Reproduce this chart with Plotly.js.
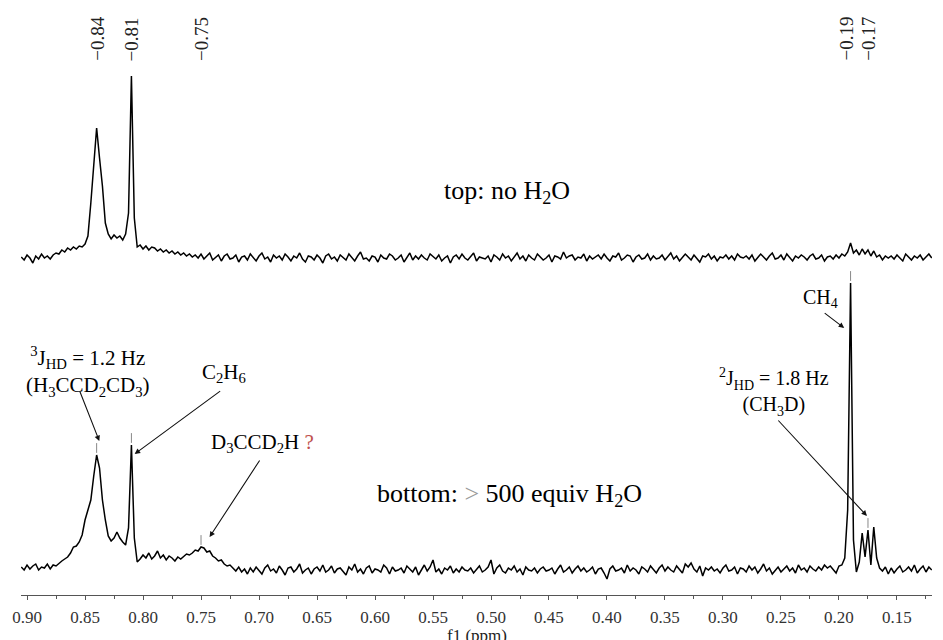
<!DOCTYPE html>
<html><head><meta charset="utf-8">
<script src="https://cdn.plot.ly/plotly-3.0.1.min.js"></script>
<style>html,body{margin:0;padding:0;background:#fff}#chart{width:943px;height:640px}</style>
</head><body><div id="chart"></div>
<script>
const ppmStart = 0.905;
const ppmStep = 0.0025;

// bottom spectrum: > 500 equiv H2O (arbitrary intensity units)
const bottomSpectrum = [
  3, 0, 5, 1, 4, 6, 0, 3, 2, 6,
  1, 5, 4, 7, 9, 11, 13, 17, 23, 24,
  28, 35, 50, 60, 70, 94, 115, 102, 70, 50,
  34, 29, 32, 38, 32, 28, 25, 42, 125, 32,
  8, 11, 15, 12, 17, 11, 14, 19, 12, 15,
  10, 14, 12, 9, 13, 11, 14, 16, 15, 17,
  20, 19, 23, 22, 18, 19, 14, 12, 9, 10,
  6, 4, 5, 2, -1, 3, -2, 1, -4, 2,
  -2, 3, 0, -4, 2, 5, -1, 1, -3, 4,
  0, -5, 2, 3, -2, 1, 6, -3, 0, 2,
  -4, 1, 3, -1, 5, -2, 0, 4, -3, 1,
  2, -1, -5, 3, 0, 6, -2, 1, -4, 2,
  4, -3, 1, 0, -2, 5, 2, -4, 3, -1,
  0, 2, -3, 4, 1, -2, 3, -5, 0, 5,
  -1, 3, 10, -2, 1, -4, 2, 0, 4, -3,
  1, -2, 3, 0, -1, 2, -3, 1, 4, -2,
  0, 3, 10, -4, 2, 5, -1, -3, 2, 0,
  4, -2, 1, -5, 3, 0, -1, 2, -3, 1,
  3, -1, 0, 2, -4, 1, 5, -2, 0, 3,
  -3, 1, 4, -1, 2, -2, 0, 3, -4, 1,
  2, -3, -9, 1, 4, -1, 0, 2, -3, 5,
  -1, 2, 0, -4, 3, 1, -2, 4, 0, -3,
  2, 5, -1, 3, 0, -2, 4, 1, -3, 6,
  3, 7, 1, -2, 4, -6, 2, 0, 3, -1,
  1, -3, 2, 5, -1, 0, 3, -4, 2, 1,
  -2, 4, 0, 3, -3, 1, 6, -1, 2, -4,
  0, 3, -2, 1, 4, -1, 2, -3, 5, 0,
  2, -2, 4, 1, -1, 3, 0, 5, 2, 4,
  1, -3, 4, 5, 12, 60, 287, 30, -2, 8,
  37, 13, 40, 5, 43, 12, 2, -1, 3, -4,
  2, -3, 1, 4, -2, 0, 3, -1, 5, -3,
  1, 4, -2, 3, 0
];

// top spectrum: no H2O (arbitrary intensity units)
const topSpectrum = [
  1, -2, 3, 0, -5, 2, -1, 4, 0, 2,
  -1, 3, 5, 4, 8, 6, 10, 8, 11, 9,
  12, 11, 14, 22, 55, 90, 130, 100, 72, 35,
  24, 19, 23, 20, 22, 18, 24, 45, 182, 40,
  11, 13, 9, 12, 8, 11, 10, 7, 9, 6,
  8, 5, 7, 4, 6, 3, 5, 2, 4, 1,
  3, 0, 4, -1, 2, 5, -2, 1, 3, -3,
  2, 4, -1, 0, 3, -4, 1, 2, -2, 4,
  0, -3, 2, 5, -1, 1, -4, 3, 0, 2,
  -2, 4, 1, -3, 2, 0, 5, -1, -4, 2,
  1, -2, 3, 0, -5, 2, 4, -1, 1, -3,
  3, 0, -2, 4, 1, -3, 2, 6, -1, 0,
  -3, 2, 1, -4, 3, 0, -1, 4, 2, -2,
  0, 3, -4, 1, 5, -2, 2, -1, 3, 0,
  -2, 4, 1, -1, 3, -3, 0, 2, -5, 1,
  3, -1, 4, 0, -2, 2, 5, -3, 1, 0,
  -1, 2, -4, 3, 1, -2, 4, 0, 2, -3,
  1, 5, -1, 2, -3, 3, 0, -2, 4, 1,
  -2, 0, 3, -4, 2, 1, -1, 6, 0, 2,
  3, -2, 1, 0, 4, -3, 2, -1, 1, 3,
  -1, 4, 0, -3, 2, 1, 5, -2, 0, 3,
  2, -4, 1, 3, -1, 0, 4, -2, 2, -1,
  0, 3, -2, 1, 5, -1, 2, -3, 0, 4,
  1, -2, 3, 0, -4, 2, 1, 4, -1, 2,
  -3, 1, 0, 3, -1, 2, -2, 4, 1, 0,
  2, -1, 3, -3, 0, 4, 1, -2, 2, 5,
  -1, 0, 3, -2, 4, 1, -3, 2, 0, 3,
  1, -2, 2, 4, -1, 0, 3, -3, 1, 2,
  -1, 3, 0, 4, 2, 6, 15, 5, 8, 3,
  9, 4, 8, 2, 7, 1, 3, -2, 2, 0,
  2, -1, 3, 0, -3, 4, 1, -2, 2, 0,
  3, -2, 1, 4, 0
];

// picked peaks (labels across the top)
const peakLabelPpm = [0.84, 0.81, 0.75, 0.19, 0.17];
const peakLabelText = ['0.84', '0.81', '0.75', '0.19', '0.17'];
// peak-pick markers on the bottom spectrum
const bottomPeakPpm = [0.84, 0.81, 0.75, 0.19, 0.175];

// axis
const xRange = [0.9052, 0.1198];
const yRange = [-25, 570];
const stackOffset = 312;

const FONT = "'Liberation Serif', 'Times New Roman', Times, serif";

const ppm = bottomSpectrum.map((_, i) => +(ppmStart - i * ppmStep).toFixed(5));
const idxOf = p => Math.round((ppmStart - p) / ppmStep);

const traces = [
  {x: ppm, y: bottomSpectrum, type: 'scatter', mode: 'lines',
   line: {color: '#000', width: 1.5}, hoverinfo: 'skip'},
  {x: ppm, y: topSpectrum.map(v => v + stackOffset), type: 'scatter', mode: 'lines',
   line: {color: '#000', width: 1.5}, hoverinfo: 'skip'},
  {x: bottomPeakPpm, y: bottomPeakPpm.map(p => bottomSpectrum[idxOf(p)] + 7),
   type: 'scatter', mode: 'markers', hoverinfo: 'skip',
   marker: {symbol: 'line-ns-open', size: 7, color: '#888', line: {width: 1, color: '#888'}}}
];

const ann = [];
// rotated peak labels
peakLabelPpm.forEach((p, k) => {
  ann.push({x: p, xref: 'x', y: (595 - 39) / 595, yref: 'paper',
    text: '\u2212' + peakLabelText[k], textangle: -90, showarrow: false,
    xanchor: 'center', yanchor: 'middle', xshift: k === 3 ? -4 : (k === 4 ? -5 : 1),
    font: {family: FONT, size: 19, color: '#222'}});
});

function txt(x, y, text, size) {
  ann.push({x: x, y: y, xref: 'x', yref: 'y', text: text, showarrow: false,
    xanchor: 'center', yanchor: 'middle', font: {family: FONT, size: size, color: '#000'}});
}
function arrow(x, y, ax, ay) {
  ann.push({x: x, y: y, xref: 'x', yref: 'y', text: '', showarrow: true,
    ax: ax, ay: ay, arrowhead: 2, arrowsize: 1, arrowwidth: 1.1, arrowcolor: '#111',
    standoff: 0, startstandoff: 0});
}

txt(0.4862, 378, 'top: no H<sub>2</sub>O', 26);
txt(0.4842, 75, 'bottom: <span style="color:#9a9a9a">&gt;</span> 500 equiv H<sub>2</sub>O', 26);
txt(0.8474, 199, '<sup>3</sup>J<sub>HD</sub> = 1.2 Hz<br>(H<sub>3</sub>CCD<sub>2</sub>CD<sub>3</sub>)', 21);
txt(0.7305, 197, 'C<sub>2</sub>H<sub>6</sub>', 21);
txt(0.6974, 127, 'D<sub>3</sub>CCD<sub>2</sub>H <span style="color:#c0504d">?</span>', 21);
txt(0.2560, 178, '<sup>2</sup>J<sub>HD</sub> = 1.8 Hz<br>(CH<sub>3</sub>D)', 20);
txt(0.2161, 272, 'CH<sub>4</sub>', 20);

arrow(0.8377, 129, -20, -51);
arrow(0.8072, 116, 87, -64);
arrow(0.7426, 33, 51, -78);
arrow(0.1759, 54, -90, -97);
arrow(0.1955, 242, -21, -16);

// axis title
ann.push({x: 0.5, xref: 'paper', y: -(635 - 595) / 595, yref: 'paper', text: 'f1 (ppm)',
  showarrow: false, xanchor: 'center', yanchor: 'middle',
  font: {family: FONT, size: 17, color: '#222'}});

const layout = {
  width: 943, height: 640,
  margin: {l: 21, r: 11, t: 0, b: 45},
  paper_bgcolor: '#fff', plot_bgcolor: '#fff',
  showlegend: false,
  xaxis: {range: xRange, tickmode: 'linear', tick0: 0, dtick: 0.05, tickformat: '.2f',
    ticks: 'outside', ticklen: 4, tickwidth: 1, tickcolor: '#555', ticklabelstandoff: 3,
    showline: true, linecolor: '#555', linewidth: 1, showgrid: false, zeroline: false,
    tickfont: {family: FONT, size: 17, color: '#333'},
    minor: {tickmode: 'linear', tick0: 0, dtick: 0.025, ticks: 'outside', ticklen: 3, tickcolor: '#555', showgrid: false}},
  yaxis: {range: yRange, visible: false, fixedrange: true},
  annotations: ann
};

Plotly.newPlot('chart', traces, layout, {displayModeBar: false, staticPlot: true});
</script>
</body></html>
